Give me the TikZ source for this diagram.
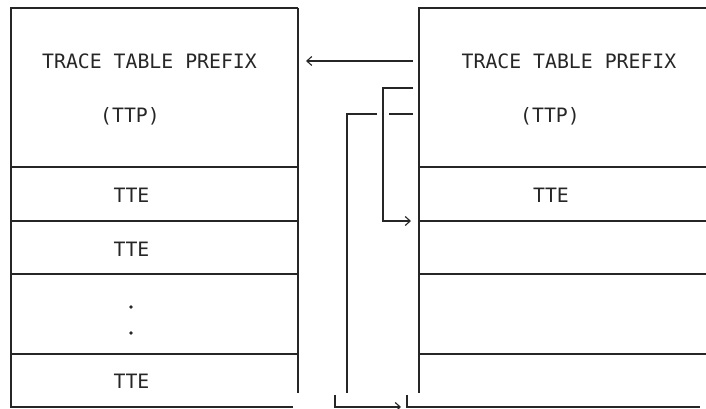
\documentclass[tikz,border=0pt]{standalone}
\usepackage{fontspec}
\setmonofont{DejaVu Sans Mono}
\usetikzlibrary{arrows.meta}
\tikzset{
  boxline/.style={draw=black!85, line width=1.3pt},
  conn/.style={draw=black!85, line width=1.3pt},
  arr/.style={conn, -{Straight Barb[length=5pt,width=9pt,line width=1.1pt]}},
  lbl/.style={anchor=base, inner sep=0pt, font=\ttfamily\fontsize{19.8}{20}\selectfont, text=black!85},
  dotmark/.style={circle, fill=black!85, inner sep=0pt, minimum size=3.8pt}
}
\begin{document}
\begin{tikzpicture}[x=1pt,y=-1pt]
\useasboundingbox (0,0) rectangle (706,409);
% left table
\draw[boxline] (298,8) -- (11,8) -- (11,407) -- (293,407);
\draw[boxline] (298,8) -- (298,393);
\foreach \yy in {167,221,274,354} \draw[boxline] (11,\yy) -- (298,\yy);
% right table
\draw[boxline] (706,8) -- (419,8) -- (419,393);
\foreach \yy in {167,221,274,354} \draw[boxline] (419,\yy) -- (706,\yy);
\draw[boxline] (407,395) -- (407,407) -- (700,407);
% labels left
\node[lbl] (lttp) at (149.5,69) {TRACE TABLE PREFIX};
\node[lbl] (lttpab) at (130,123) {(TTP)};
\node[lbl] (ltte1) at (131.5,202) {TTE};
\node[lbl] (ltte2) at (131.5,256) {TTE};
\node[dotmark] (ld1) at (131,307) {};
\node[dotmark] (ld2) at (131,333) {};
\node[lbl] (ltte3) at (131.5,388) {TTE};
% labels right
\node[lbl] (rttp) at (569,69) {TRACE TABLE PREFIX};
\node[lbl] (rttpab) at (550,123) {(TTP)};
\node[lbl] (rtte1) at (551,202) {TTE};
% connector coordinates
\coordinate (pa) at (413,61);
\coordinate (pb) at (306,61);
\coordinate (qa) at (413,88);
\coordinate (qb) at (411,221);
\coordinate (sa) at (413,114);
\coordinate (sb) at (389,114);
\coordinate (sc) at (377,114);
\coordinate (sd) at (347,393);
\coordinate (se) at (335,395);
\coordinate (sf) at (401,407);
% connectors
\draw[arr] (pa) -- (pb);
\draw[arr] (qa) -- (383,88) -- (383,221) -- (qb);
\draw[conn] (sa) -- (sb);
\draw[conn] (sc) -- (347,114) -- (sd);
\draw[arr] (se) -- (335,407) -- (sf);
\end{tikzpicture}
\end{document}
